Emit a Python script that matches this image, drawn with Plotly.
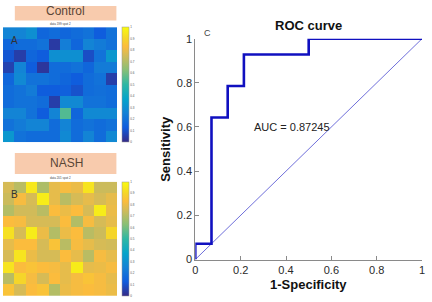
import plotly.graph_objects as go

# ---------------- data ----------------
control_values = [
    [0.26, 0.26, 0.30, 0.16, 0.18, 0.16, 0.18, 0.20, 0.13, 0.20],
    [0.16, 0.18, 0.18, 0.20, 0.04, 0.24, 0.16, 0.26, 0.23, 0.20],
    [0.11, 0.05, 0.16, 0.13, 0.30, 0.30, 0.30, 0.09, 0.20, 0.33],
    [0.06, 0.26, 0.13, 0.03, 0.18, 0.18, 0.20, 0.16, 0.23, 0.23],
    [0.16, 0.28, 0.20, 0.20, 0.18, 0.16, 0.13, 0.18, 0.20, 0.05],
    [0.18, 0.20, 0.23, 0.13, 0.13, 0.14, 0.10, 0.18, 0.19, 0.18],
    [0.18, 0.20, 0.20, 0.18, 0.05, 0.28, 0.28, 0.20, 0.20, 0.18],
    [0.26, 0.26, 0.20, 0.13, 0.26, 0.55, 0.16, 0.28, 0.28, 0.28],
    [0.20, 0.23, 0.26, 0.26, 0.18, 0.26, 0.18, 0.20, 0.18, 0.20],
    [0.33, 0.20, 0.18, 0.18, 0.18, 0.28, 0.18, 0.26, 0.18, 0.28],
]
nash_values = [
    [0.76, 0.71, 0.95, 0.69, 0.79, 0.82, 0.80, 0.94, 0.74, 0.74],
    [0.74, 0.82, 0.76, 0.96, 0.79, 0.71, 0.76, 0.79, 0.76, 0.79],
    [0.70, 0.75, 0.75, 0.71, 0.83, 0.80, 0.83, 0.76, 0.96, 0.80],
    [0.83, 0.82, 0.76, 0.76, 0.76, 0.83, 0.70, 0.82, 0.76, 0.79],
    [0.93, 0.76, 0.96, 0.80, 0.70, 0.80, 0.83, 0.71, 0.74, 0.90],
    [0.79, 0.83, 0.83, 0.76, 0.85, 0.71, 0.82, 0.79, 0.76, 0.75],
    [0.76, 0.94, 0.80, 0.76, 0.76, 0.83, 0.79, 0.71, 0.82, 0.79],
    [0.94, 0.83, 0.85, 0.83, 0.82, 0.79, 0.96, 0.79, 0.80, 0.82],
    [0.71, 0.90, 0.82, 0.76, 0.83, 0.79, 0.82, 0.85, 0.82, 0.79],
    [0.85, 0.76, 0.83, 0.85, 0.70, 0.80, 0.82, 0.83, 0.82, 0.80],
]
cbar_ticks = [0, 0.1, 0.2, 0.3, 0.4, 0.5, 0.6, 0.7, 0.8, 0.9, 1]
cbar_ticklabels = ["0", "0.1", "0.2", "0.3", "0.4", "0.5", "0.6", "0.7", "0.8", "0.9", "1"]

roc_fpr = [0, 0, 1/14, 1/14, 2/14, 2/14, 3/14, 3/14, 0.5, 0.5, 1]
roc_tpr = [0, 1/14, 1/14, 9/14, 9/14, 11/14, 11/14, 13/14, 13/14, 1, 1]
diag_x = [0, 1]
diag_y = [0, 1]
roc_ticks = [0, 0.2, 0.4, 0.6, 0.8, 1]
roc_ticklabels = ["0", "0.2", "0.4", "0.6", "0.8", "1"]
auc_text = "AUC = 0.87245"

parula = [
    [0.0, "#352a87"], [0.125, "#0f5cdd"], [0.25, "#1481d6"], [0.375, "#06a4ca"],
    [0.5, "#2eb7a4"], [0.625, "#87bf77"], [0.75, "#d1bb59"], [0.83, "#fbbc3d"],
    [0.9, "#f5d52a"], [1.0, "#f9fb0e"],
]

W, H = 432, 302
def px(x):
    return x / W
def py(y):
    return 1 - y / H

FONT = "Liberation Sans, Arial, sans-serif"

fig = go.Figure()

def cbar(ymid, ylen, yanchor="middle"):
    return dict(
        x=px(121), xanchor="left", xpad=0, ypad=0,
        y=ymid, yanchor=yanchor, len=ylen, lenmode="fraction",
        thickness=7, outlinewidth=0.5, outlinecolor="#999",
        tickvals=cbar_ticks, ticktext=cbar_ticklabels,
        tickfont=dict(size=3, color="#555", family=FONT),
        ticks="", ticklabelposition="outside",
    )

fig.add_trace(go.Heatmap(
    z=control_values, colorscale=parula, zmin=0, zmax=1,
    xaxis="x", yaxis="y", xgap=0, ygap=0,
    colorbar=cbar(py(82), 120 / H),
))
fig.add_trace(go.Heatmap(
    z=nash_values, colorscale=parula, zmin=0, zmax=1,
    xaxis="x2", yaxis="y2",
    colorbar=cbar(0, 119 / H, yanchor="bottom"),
))

fig.add_trace(go.Scatter(
    x=diag_x, y=diag_y, mode="lines", xaxis="x3", yaxis="y3",
    line=dict(color="#4a4ad0", width=0.8), showlegend=False, hoverinfo="skip",
))
fig.add_trace(go.Scatter(
    x=roc_fpr, y=roc_tpr, mode="lines", xaxis="x3", yaxis="y3",
    line=dict(color="#1010c0", width=2.6), showlegend=False,
))

hm_axis = dict(showticklabels=False, showgrid=False, zeroline=False, ticks="",
               showline=False)

roc_axis_common = dict(
    range=[0, 1], tickvals=roc_ticks, ticktext=roc_ticklabels,
    showgrid=False, zeroline=False, showline=True, linecolor="#8a8a8a",
    linewidth=1, ticks="inside", ticklen=4, tickcolor="#8a8a8a",
    tickfont=dict(size=11, color="#2a2a2a", family=FONT),
)

def ann(text, x, y, size, color, **kw):
    d = dict(text=text, x=px(x), y=py(y), xref="paper", yref="paper",
             xanchor="center", yanchor="middle", showarrow=False,
             font=dict(size=size, color=color, family=FONT))
    d.update(kw)
    return d

fig.update_layout(
    width=W, height=H, margin=dict(l=0, r=0, t=0, b=0),
    paper_bgcolor="white", plot_bgcolor="white", showlegend=False,
    font=dict(family=FONT),
    xaxis=dict(domain=[0, px(116)], anchor="y", **hm_axis),
    yaxis=dict(domain=[py(142), py(22)], anchor="x", autorange="reversed", **hm_axis),
    xaxis2=dict(domain=[0, px(116)], anchor="y2", **hm_axis),
    yaxis2=dict(domain=[0, py(183)], anchor="x2", autorange="reversed", **hm_axis),
    xaxis3=dict(domain=[px(195), px(425)], anchor="y3", **roc_axis_common),
    yaxis3=dict(domain=[py(264), py(34)], anchor="x3", **roc_axis_common),
    shapes=[
        dict(type="rect", xref="paper", yref="paper", x0=px(12), x1=px(115),
             y0=py(15), y1=py(0), fillcolor="#f8cbad", line=dict(width=0), layer="below"),
        dict(type="rect", xref="paper", yref="paper", x0=px(12), x1=px(115),
             y0=py(175), y1=py(153), fillcolor="#f8cbad", line=dict(width=0), layer="below"),
    ],
    annotations=[
        ann("Control", 63, 5, 12, "#5a4636"),
        ann("NASH", 64, 164, 12, "#5a4636"),
        ann("data 199 spot 2", 58, 19, 3, "#444"),
        ann("data 201 spot 2", 58, 179, 3, "#444"),
        ann("A", 12, 36, 10, "#333"),
        ann("B", 12, 196, 10, "#333"),
        ann("C", 207, 28, 9, "#444"),
        ann("<b>ROC curve</b>", 310, 20, 13, "#111"),
        ann("<b>1-Specificity</b>", 310, 290, 13, "#111"),
        ann("<b>Sensitivity</b>", 164, 149, 13, "#111", textangle=-90),
        dict(text=auc_text, x=0.25, y=0.6, xref="x3", yref="y3", xanchor="left",
             yanchor="middle", showarrow=False,
             font=dict(size=11, color="#222", family=FONT)),
    ],
)

fig.write_html("out.html")
